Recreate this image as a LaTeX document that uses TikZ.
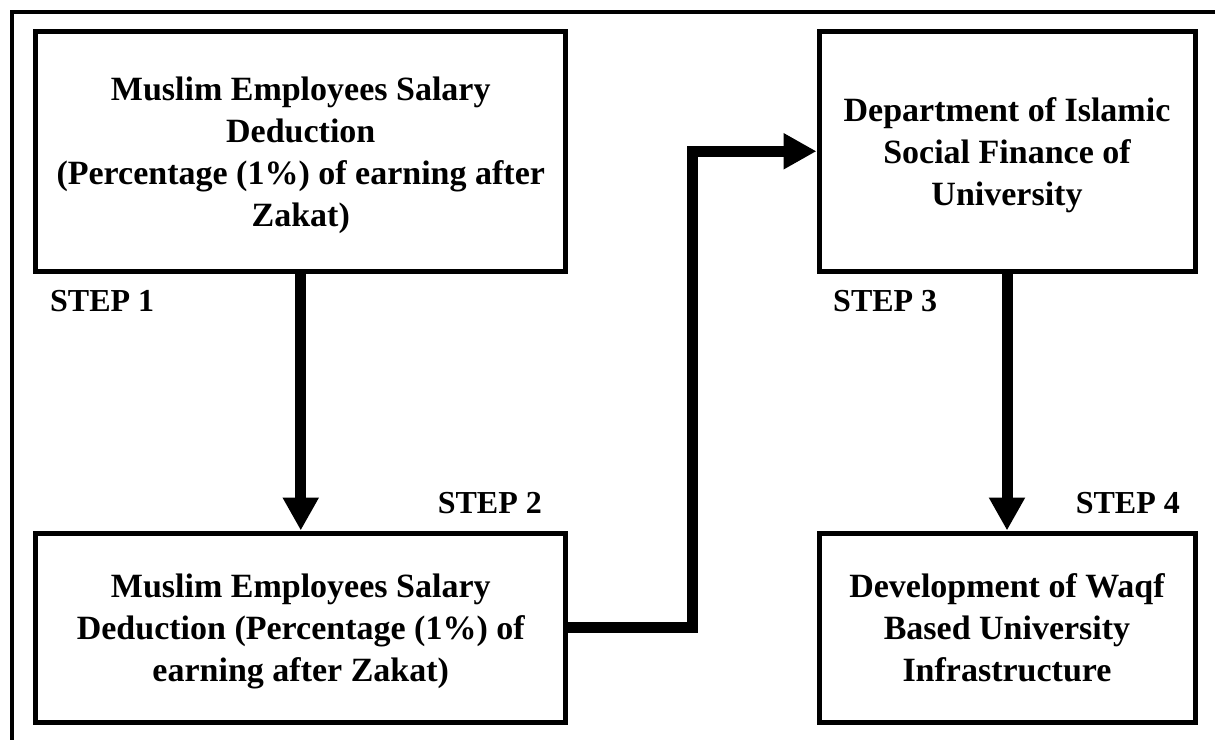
\documentclass[tikz,border=0pt]{standalone}
\usepackage{fontspec}
\setmainfont{Liberation Serif}
\usetikzlibrary{arrows.meta}

\tikzset{
  stepbox/.style={draw, line width=5pt, inner sep=0pt, align=center, text depth=0pt,
                  font=\bfseries\fontsize{34}{42}\selectfont},
  steplabel/.style={font=\bfseries\fontsize{32}{38}\selectfont, inner sep=0pt},
  flowarrow/.style={line width=11pt, -{Triangle[length=33pt, width=34pt]}},
}

\begin{document}
\begin{tikzpicture}[x=1pt, y=-1pt]

\useasboundingbox (0,0) rectangle (1215,740);

% outer frame (only top and left edges show)
\draw[line width=4pt] (1215,11.5) -- (12,11.5) -- (12,740);

% === left column ===
\node[stepbox, minimum width=530pt, minimum height=240pt] (deduct1) at (300.75,151.25)
     {Muslim Employees Salary\\Deduction\\(Percentage (1\%) of earning after\\Zakat)};
\node[stepbox, minimum width=530pt, minimum height=189pt] (deduct2) at (300.75,627.5)
     {Muslim Employees Salary\\Deduction (Percentage (1\%) of\\earning after Zakat)};

% === right column ===
\node[stepbox, minimum width=376pt, minimum height=240pt] (dept) at (1007,151.25)
     {Department of Islamic\\Social Finance of\\University};
\node[stepbox, minimum width=376pt, minimum height=189pt] (waqf) at (1007,627.5)
     {Development of Waqf\\Based University\\Infrastructure};

% step labels
\node[steplabel, anchor=west] (step1) at (50,301) {STEP 1};
\node[steplabel, anchor=east] (step2) at (542,503) {STEP 2};
\node[steplabel, anchor=west] (step3) at (833,301) {STEP 3};
\node[steplabel, anchor=east] (step4) at (1180,503) {STEP 4};

% arrows
\coordinate (bend) at (692,390);
\draw[flowarrow] (deduct1.south) -- (deduct2.north);
\draw[flowarrow] (deduct2.east) -| (bend) |- (dept.west);
\draw[flowarrow] (dept.south) -- (waqf.north);

\end{tikzpicture}
\end{document}
